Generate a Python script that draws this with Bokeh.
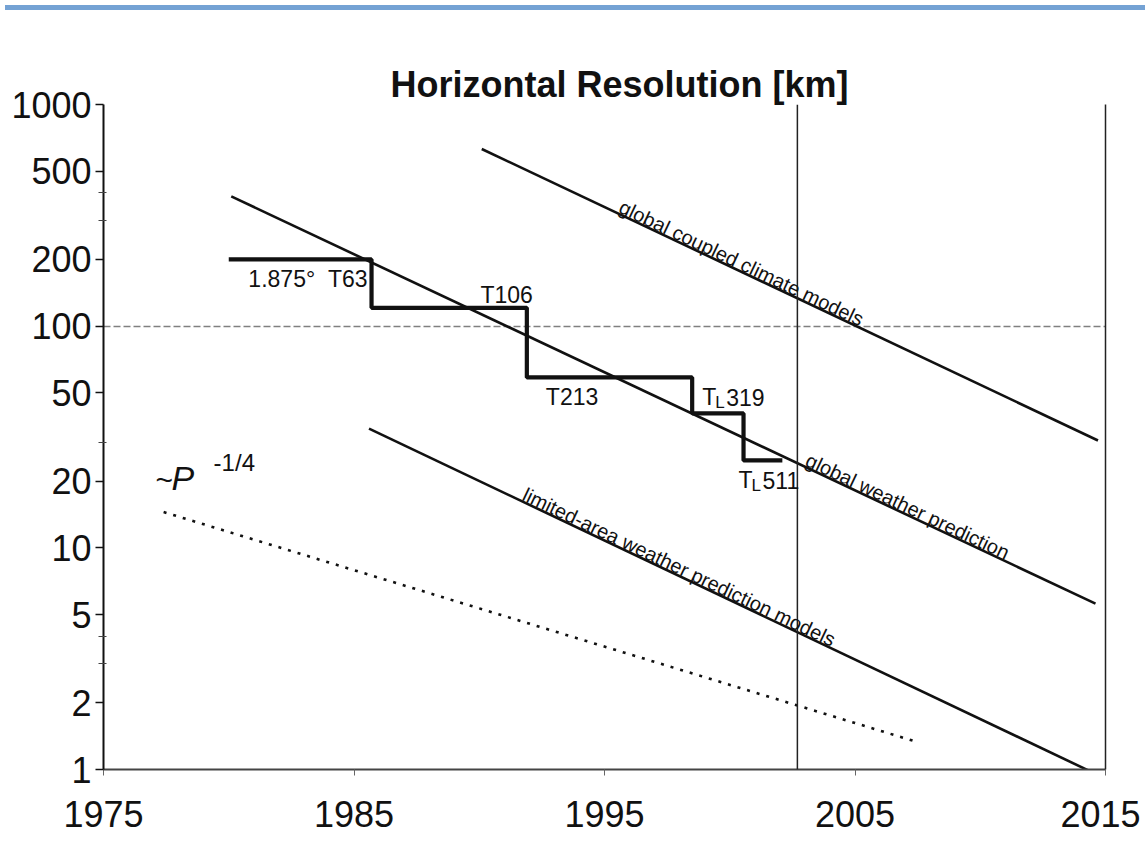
import math
from bokeh.plotting import figure
from bokeh.models import FixedTicker, Label, Span, LogAxis, Div, PrintfTickFormatter
from bokeh.layouts import column
from bokeh.embed import file_html
from bokeh.resources import INLINE

# ---------------- data ----------------
x_ticks = [1975, 1985, 1995, 2005, 2015]
y_ticks = [1, 2, 5, 10, 20, 50, 100, 200, 500, 1000]
y_minor = [3, 4, 30, 300, 400]
grid_levels = [100, 1000]

climate_years = [1990.1, 2014.7]
climate_res = [630, 30.5]
weather_years = [1980.1, 2014.6]
weather_res = [385, 5.6]
lam_years = [1985.6, 2014.4]
lam_res = [34.5, 0.98]
scaling_years = [1977.4, 2007.3]
scaling_res = [14.5, 1.35]

step_years = [1980.0, 1985.7, 1991.9, 1998.5, 2000.55, 2002.1]
step_res = [200, 121, 58.7, 40.4, 24.8]
marker_year = 2002.7

title_text = "Horizontal Resolution [km]"
climate_label = "global coupled climate models"
weather_label = "global weather prediction"
lam_label = "limited-area weather prediction models"

# ---------------- layout ----------------
FW, FH = 1002, 665
X0, X1 = 1975, 2015
Y0, Y1 = 1, 1000
PX_YEAR = FW / (X1 - X0)
PX_DEC = FH / (math.log10(Y1) - math.log10(Y0))
FONT = "Liberation Sans"
INK = "#111111"

p = figure(frame_width=FW, frame_height=FH, x_range=(X0, X1), y_range=(Y0, Y1),
           y_axis_type="log", output_backend="svg", toolbar_location=None,
           min_border_left=103, min_border_right=35, min_border_top=89, min_border_bottom=70)
p.outline_line_color = None
p.background_fill_color = "white"
p.border_fill_color = "white"

# title
p.title.text = title_text
p.title.align = "left"
p.title.offset = 287
p.title.standoff = 0
p.title.text_font = FONT
p.title.text_font_size = "36px"
p.title.text_font_style = "bold"
p.title.text_color = INK

# axes
p.xaxis.ticker = FixedTicker(ticks=x_ticks)
p.xaxis.formatter = PrintfTickFormatter(format="%d")
p.xaxis.major_label_text_font = FONT
p.xaxis.major_label_text_font_size = "36px"
p.xaxis.major_label_text_color = INK
p.xaxis.major_tick_out = 6
p.xaxis.major_tick_in = 0
p.xaxis.minor_tick_line_color = None
p.xaxis.major_label_standoff = 25
p.xaxis.axis_line_color = "#444444"
p.xaxis.axis_line_width = 2
p.xaxis.major_tick_line_color = "#666666"

p.yaxis.ticker = FixedTicker(ticks=y_ticks, minor_ticks=y_minor)
p.yaxis.formatter = PrintfTickFormatter(format="%d")
p.yaxis.major_label_text_font = FONT
p.yaxis.major_label_text_font_size = "36px"
p.yaxis.major_label_text_color = INK
p.yaxis.major_tick_out = 8
p.yaxis.major_tick_in = 0
p.yaxis.minor_tick_out = 5
p.yaxis.minor_tick_in = 3
p.yaxis.major_label_standoff = 4
p.yaxis.axis_line_color = INK
p.yaxis.axis_line_width = 2
p.yaxis.major_tick_line_width = 1.5
p.yaxis.major_tick_line_color = INK
p.yaxis.minor_tick_line_color = "#444444"

right = LogAxis(ticker=FixedTicker(ticks=[]), major_label_text_font_size="0px",
                major_tick_line_color=None, minor_tick_line_color=None,
                axis_line_color="#222222", axis_line_width=1.5)
p.add_layout(right, "right")

p.xgrid.visible = False
p.ygrid.ticker = FixedTicker(ticks=grid_levels)
p.ygrid.grid_line_color = "#808080"
p.ygrid.grid_line_dash = "7 3"
p.ygrid.grid_line_width = 1.4

p.add_layout(Span(location=marker_year, dimension="height", line_color="#222222", line_width=1.5))

# lines
for xs, ys in [(climate_years, climate_res), (weather_years, weather_res), (lam_years, lam_res)]:
    p.line(xs, ys, line_color=INK, line_width=2.6)
p.line(scaling_years, scaling_res, line_color=INK, line_width=2.6, line_dash="3 7")
p.step(step_years, step_res + [step_res[-1]], mode="after", line_color=INK, line_width=4.2)


def on_line(xs, ys, x):
    lx = [math.log10(v) for v in ys]
    t = (x - xs[0]) / (xs[1] - xs[0])
    return 10 ** (lx[0] + t * (lx[1] - lx[0]))


def line_angle(xs, ys):
    dlog = math.log10(ys[1]) - math.log10(ys[0])
    return math.atan2(dlog * PX_DEC, (xs[1] - xs[0]) * PX_YEAR)


for xs, ys, start, txt in [(climate_years, climate_res, 1995.5, climate_label),
                           (weather_years, weather_res, 2002.95, weather_label),
                           (lam_years, lam_res, 1991.65, lam_label)]:
    a = line_angle(xs, ys)
    d = 8.0
    p.add_layout(Label(x=start, y=on_line(xs, ys, start), angle=a, angle_units="rad",
                       x_offset=-d * math.sin(a), y_offset=d * math.cos(a),
                       text=txt, text_align="left", text_baseline="alphabetic",
                       text_font=FONT, text_font_size="20px", text_color=INK))

LIFT = 7


def lab(x, y, txt, xo, yo, size="23px", align="left", style="normal"):
    p.add_layout(Label(x=x, y=y, x_offset=xo, y_offset=yo + LIFT, text=txt, text_align=align,
                       text_baseline="alphabetic", text_font=FONT, text_font_size=size,
                       text_font_style=style, text_color=INK))


lab(step_years[1], step_res[0], "1.875\u00b0\u00a0\u00a0T63", -4, -27, align="right")
lab(step_years[2], step_res[1], "T106", 6, 6, align="right")
lab(step_years[2], step_res[2], "T213", 19, -27)
for (sx, sy, num, dx) in [(step_years[3], step_res[2], "319", 10), (step_years[4], step_res[4], "511", -5)]:
    lab(sx, sy, "T", dx, -27)
    lab(sx, sy, "L", dx + 13, -32, size="17px")
    lab(sx, sy, num, dx + 24, -27)

lab(scaling_years[0], scaling_res[0], "~", -8, 26, size="30px")
lab(scaling_years[0], scaling_res[0], "P", 8, 27, size="34px", style="italic")
lab(scaling_years[0], scaling_res[0], "-1/4", 50, 43, size="24px")

bar = Div(width=1140, height=5, styles={"background-color": "#74a2d4"})
layout = column(bar, p, spacing=0)

open("out.html", "w").write(file_html(layout, INLINE))
